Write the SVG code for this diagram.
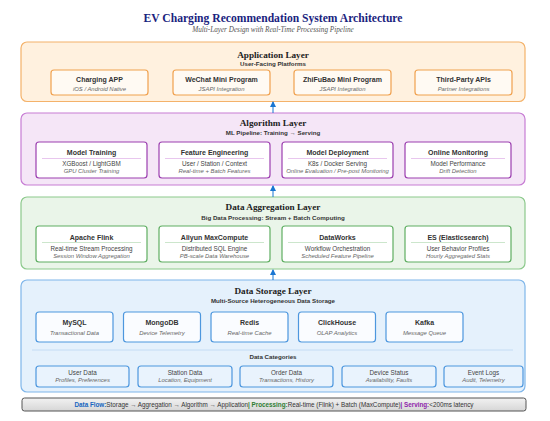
<svg xmlns="http://www.w3.org/2000/svg" width="550" height="421" viewBox="0 0 550 421">
<defs>
<style>
.title{font-family:"Liberation Serif",serif;font-weight:bold;font-size:11.6px;fill:#1a237e;text-anchor:middle}
.subtitle{font-family:"Liberation Serif",serif;font-style:italic;font-size:7.2px;fill:#555;text-anchor:middle}
.lt{font-family:"Liberation Serif",serif;font-weight:bold;font-size:9.2px;fill:#222;text-anchor:middle}
.ls{font-family:"Liberation Sans",Arial,sans-serif;font-weight:bold;font-size:6.2px;fill:#333;text-anchor:middle}
.bn{font-family:"Liberation Sans",Arial,sans-serif;font-weight:bold;font-size:7px;fill:#333;text-anchor:middle}
.b1{font-family:"Liberation Sans",Arial,sans-serif;font-size:6.3px;fill:#444;text-anchor:middle}
.b2{font-family:"Liberation Sans",Arial,sans-serif;font-style:italic;font-size:5.9px;fill:#666;text-anchor:middle}
.appL{fill:#fff1df;stroke:#f4b26a;stroke-width:1.2}
.appB{fill:#fffaf3;stroke:#f0a14f;stroke-width:1.2}
.algL{fill:#f5e6f7;stroke:#c77dd4;stroke-width:1.2}
.algB{fill:#fff;stroke:#9c3fb0;stroke-width:1.2}
.aggL{fill:#eaf5e9;stroke:#8cc98c;stroke-width:1.2}
.aggB{fill:#fff;stroke:#5fae62;stroke-width:1.2}
.stoL{fill:#e5f1fc;stroke:#7fb6ea;stroke-width:1.2}
.stoB{fill:#fafcff;stroke:#4d97de;stroke-width:1.2}
.catB{fill:#e9f3fd;stroke:#4d97de;stroke-width:1.2}
.sepP{stroke:#e2b8ea;stroke-width:0.8}
.sepG{stroke:#bfe0bf;stroke-width:0.8}
.sepB{stroke:#bcd8f2;stroke-width:0.8}
.arr{stroke:#1976d2;stroke-width:1;fill:none}
.ft{font-family:"Liberation Sans",Arial,sans-serif;font-size:6.3px;fill:#333}
</style>
<marker id="ah" markerWidth="6" markerHeight="6" refX="5" refY="3" orient="auto" markerUnits="userSpaceOnUse">
<path d="M0,0 L6,3 L0,6 Z" fill="#1976d2"/>
</marker>
<linearGradient id="gbar" x1="0" y1="0" x2="0" y2="1">
<stop offset="0" stop-color="#f2f2f2"/>
<stop offset="1" stop-color="#d6d6d6"/>
</linearGradient>
</defs>
<rect width="550" height="421" fill="#fff"/>
<text class="title" x="273" y="22">EV Charging Recommendation System Architecture</text>
<text class="subtitle" x="273" y="32">Multi-Layer Design with Real-Time Processing Pipeline</text>

<g id="application-layer">
<rect class="appL" x="21" y="42" width="504" height="59.5" rx="6"/>
<text class="lt" x="273" y="58">Application Layer</text>
<text class="ls" x="273" y="65.5">User-Facing Platforms</text>
</g>
<g id="app-charging"><rect class="appB" x="51" y="70" width="97" height="25" rx="3"/><text class="bn" x="99.5" y="81.5">Charging APP</text><text class="b2" x="99.5" y="91">iOS / Android Native</text></g>
<g id="app-wechat"><rect class="appB" x="173" y="70" width="97" height="25" rx="3"/><text class="bn" x="221.5" y="81.5">WeChat Mini Program</text><text class="b2" x="221.5" y="91">JSAPI Integration</text></g>
<g id="app-zhifubao"><rect class="appB" x="294" y="70" width="97" height="25" rx="3"/><text class="bn" x="342.5" y="81.5">ZhiFuBao Mini Program</text><text class="b2" x="342.5" y="91">JSAPI Integration</text></g>
<g id="app-thirdparty"><rect class="appB" x="415" y="70" width="97" height="25" rx="3"/><text class="bn" x="463.5" y="81.5">Third-Party APIs</text><text class="b2" x="463.5" y="91">Partner Integrations</text></g>

<g id="algorithm-layer">
<rect class="algL" x="21" y="113" width="504" height="72" rx="6"/>
<text class="lt" x="273" y="126">Algorithm Layer</text>
<text class="ls" x="273" y="135">ML Pipeline: Training → Serving</text>
</g>
<g id="alg-training"><rect class="algB" x="36" y="142" width="111" height="36" rx="3"/><text class="bn" x="91.5" y="155">Model Training</text><line class="sepP" x1="42" y1="158.5" x2="141" y2="158.5"/><text class="b1" x="91.5" y="166">XGBoost / LightGBM</text><text class="b2" x="91.5" y="173">GPU Cluster Training</text></g>
<g id="alg-feature"><rect class="algB" x="159" y="142" width="111" height="36" rx="3"/><text class="bn" x="214.5" y="155">Feature Engineering</text><line class="sepP" x1="165" y1="158.5" x2="264" y2="158.5"/><text class="b1" x="214.5" y="166">User / Station / Context</text><text class="b2" x="214.5" y="173">Real-time + Batch Features</text></g>
<g id="alg-deploy"><rect class="algB" x="282" y="142" width="111" height="36" rx="3"/><text class="bn" x="337.5" y="155">Model Deployment</text><line class="sepP" x1="288" y1="158.5" x2="387" y2="158.5"/><text class="b1" x="337.5" y="166">K8s / Docker Serving</text><text class="b2" x="337.5" y="173">Online Evaluation / Pre-post Monitoring</text></g>
<g id="alg-monitor"><rect class="algB" x="405" y="142" width="106" height="36" rx="3"/><text class="bn" x="458" y="155">Online Monitoring</text><line class="sepP" x1="411" y1="158.5" x2="505" y2="158.5"/><text class="b1" x="458" y="166">Model Performance</text><text class="b2" x="458" y="173">Drift Detection</text></g>

<g id="aggregation-layer">
<rect class="aggL" x="21" y="197" width="504" height="72" rx="6"/>
<text class="lt" x="273" y="210">Data Aggregation Layer</text>
<text class="ls" x="273" y="220">Big Data Processing: Stream + Batch Computing</text>
</g>
<g id="agg-flink"><rect class="aggB" x="36" y="226" width="111" height="36" rx="3"/><text class="bn" x="91.5" y="239.5">Apache Flink</text><line class="sepG" x1="42" y1="242.5" x2="141" y2="242.5"/><text class="b1" x="91.5" y="250.5">Real-time Stream Processing</text><text class="b2" x="91.5" y="257.5">Session Window Aggregation</text></g>
<g id="agg-maxcompute"><rect class="aggB" x="159" y="226" width="111" height="36" rx="3"/><text class="bn" x="214.5" y="239.5">Aliyun MaxCompute</text><line class="sepG" x1="165" y1="242.5" x2="264" y2="242.5"/><text class="b1" x="214.5" y="250.5">Distributed SQL Engine</text><text class="b2" x="214.5" y="257.5">PB-scale Data Warehouse</text></g>
<g id="agg-dataworks"><rect class="aggB" x="282" y="226" width="111" height="36" rx="3"/><text class="bn" x="337.5" y="239.5">DataWorks</text><line class="sepG" x1="288" y1="242.5" x2="387" y2="242.5"/><text class="b1" x="337.5" y="250.5">Workflow Orchestration</text><text class="b2" x="337.5" y="257.5">Scheduled Feature Pipeline</text></g>
<g id="agg-es"><rect class="aggB" x="405" y="226" width="106" height="36" rx="3"/><text class="bn" x="458" y="239.5">ES (Elasticsearch)</text><line class="sepG" x1="411" y1="242.5" x2="505" y2="242.5"/><text class="b1" x="458" y="250.5">User Behavior Profiles</text><text class="b2" x="458" y="257.5">Hourly Aggregated Stats</text></g>

<g id="storage-layer">
<rect class="stoL" x="21" y="280" width="504" height="112" rx="6"/>
<text class="lt" x="273" y="294">Data Storage Layer</text>
<text class="ls" x="273" y="303">Multi-Source Heterogeneous Data Storage</text>
<line class="sepB" x1="32" y1="350" x2="513" y2="350"/>
<text class="ls" x="273" y="359">Data Categories</text>
</g>
<g id="sto-mysql"><rect class="stoB" x="36" y="312" width="77" height="30" rx="3"/><text class="bn" x="74.5" y="324.5">MySQL</text><text class="b2" x="74.5" y="335">Transactional Data</text></g>
<g id="sto-mongodb"><rect class="stoB" x="123.5" y="312" width="77" height="30" rx="3"/><text class="bn" x="162" y="324.5">MongoDB</text><text class="b2" x="162" y="335">Device Telemetry</text></g>
<g id="sto-redis"><rect class="stoB" x="211" y="312" width="77" height="30" rx="3"/><text class="bn" x="249.5" y="324.5">Redis</text><text class="b2" x="249.5" y="335">Real-time Cache</text></g>
<g id="sto-clickhouse"><rect class="stoB" x="298.5" y="312" width="77" height="30" rx="3"/><text class="bn" x="337" y="324.5">ClickHouse</text><text class="b2" x="337" y="335">OLAP Analytics</text></g>
<g id="sto-kafka"><rect class="stoB" x="386" y="312" width="77" height="30" rx="3"/><text class="bn" x="424.5" y="324.5">Kafka</text><text class="b2" x="424.5" y="335">Message Queue</text></g>

<g id="cat-user"><rect class="catB" x="36" y="366" width="93" height="21" rx="3"/><text class="b1" x="82.5" y="374.5">User Data</text><text class="b2" x="82.5" y="381.5">Profiles, Preferences</text></g>
<g id="cat-station"><rect class="catB" x="138" y="366" width="94" height="21" rx="3"/><text class="b1" x="185" y="374.5">Station Data</text><text class="b2" x="185" y="381.5">Location, Equipment</text></g>
<g id="cat-order"><rect class="catB" x="240" y="366" width="93" height="21" rx="3"/><text class="b1" x="286.5" y="374.5">Order Data</text><text class="b2" x="286.5" y="381.5">Transactions, History</text></g>
<g id="cat-device"><rect class="catB" x="342" y="366" width="94" height="21" rx="3"/><text class="b1" x="389" y="374.5">Device Status</text><text class="b2" x="389" y="381.5">Availability, Faults</text></g>
<g id="cat-events"><rect class="catB" x="444" y="366" width="79" height="21" rx="3"/><text class="b1" x="483.5" y="374.5">Event Logs</text><text class="b2" x="483.5" y="381.5">Audit, Telemetry</text></g>

<g id="connectors">
<line class="arr" x1="273" y1="113" x2="273" y2="102" marker-end="url(#ah)"/>
<line class="arr" x1="273" y1="197" x2="273" y2="186" marker-end="url(#ah)"/>
<line class="arr" x1="273" y1="280" x2="273" y2="270" marker-end="url(#ah)"/>
</g>

<g id="flow-bar">
<rect x="22" y="398" width="504" height="13" rx="2.5" fill="url(#gbar)" stroke="#555" stroke-width="1"/>
<text class="ft" x="274" y="406.5" text-anchor="middle"><tspan font-weight="bold" fill="#1565c0">Data Flow:</tspan>Storage → Aggregation → Algorithm → Application<tspan font-weight="bold" fill="#2e7d32">| Processing:</tspan>Real-time (Flink) + Batch (MaxCompute)<tspan font-weight="bold" fill="#8e24aa">| Serving:</tspan>&lt;200ms latency</text>
</g>
</svg>
